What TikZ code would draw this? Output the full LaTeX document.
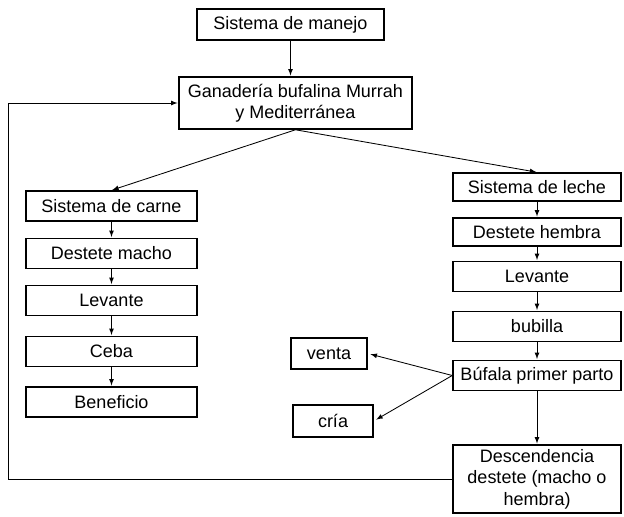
\documentclass[tikz,border=0pt]{standalone}
\usepackage{fontspec}
\setmainfont{Liberation Sans}
\usepackage{tikz}
\usetikzlibrary{arrows}

\begin{document}
\begin{tikzpicture}[>=latex,
	caja/.style = {draw,line width=1.1pt,inner sep=0pt,align=center,minimum height=0.75cm,font=\fontsize{12.8}{15.2}\selectfont},
	izq/.style = {caja,minimum width=4.275cm},
	der/.style = {caja,minimum width=4.2cm},
	flecha/.style = {->,line width=0.6pt,shorten >=0.5pt}
	]
	\useasboundingbox (0,0) rectangle (15.6,12.9);
%	\draw [help lines] (0,0) grid (15,12);
	%ARRIBA
	\node[caja,minimum width=4.675cm,minimum height=0.775cm] (manejo) at (7.2625,12.2875) {Sistema de manejo};
	\node[caja,minimum width=5.825cm,minimum height=1.3cm] (ganaderia) at (7.3875,10.325) {Ganadería bufalina Murrah\\y Mediterránea};
	%CARNE
	\node[izq] (carne) at (2.7875,7.75) {Sistema de carne};
	\node[izq] (macho) at (2.7875,6.5625) {Destete macho};
	\node[izq] (levante1) at (2.7875,5.3875) {Levante};
	\node[izq] (ceba) at (2.7875,4.1125) {Ceba};
	\node[izq] (beneficio) at (2.7875,2.85) {Beneficio};
	%LECHE
	\node[der,minimum height=0.7cm] (leche) at (13.425,8.225) {Sistema de leche};
	\node[der,minimum height=0.7cm] (hembra) at (13.425,7.1) {Destete hembra};
	\node[der] (levante2) at (13.425,5.9875) {Levante};
	\node[der] (bubilla) at (13.425,4.7375) {bubilla};
	\node[der] (bufala) at (13.425,3.5125) {Búfala primer parto};
	\node[der,minimum height=1.7cm] (descendencia) at (13.425,0.925) {Descendencia\\destete (macho o\\hembra)};
	\node[caja,minimum width=1.9cm,minimum height=0.775cm] (venta) at (8.225,4.0625) {venta};
	\node[caja,minimum width=2cm,minimum height=0.8cm] (cria) at (8.325,2.375) {cría};
	\coordinate (vuelta) at (0.2,0.925);
	%Flechas
	\draw[flecha] (manejo.south) -- (manejo.south |- ganaderia.north);
	\draw[flecha] (ganaderia.south) -- (carne.north);
	\draw[flecha] (ganaderia.south) -- (leche.north);
	\draw[flecha] (carne) -- (macho);
	\draw[flecha] (macho) -- (levante1);
	\draw[flecha] (levante1) -- (ceba);
	\draw[flecha] (ceba) -- (beneficio);
	\draw[flecha] (leche) -- (hembra);
	\draw[flecha] (hembra) -- (levante2);
	\draw[flecha] (levante2) -- (bubilla);
	\draw[flecha] (bubilla) -- (bufala);
	\draw[flecha] (bufala) -- (descendencia);
	\draw[flecha,shorten >=2pt] (bufala.west) -- (venta.east);
	\draw[flecha,shorten >=2pt] (bufala.west) -- (cria.east);
	%Vuelta
	\draw[flecha] (descendencia.west) -- (vuelta) |- (ganaderia.west);
\end{tikzpicture}
\end{document}
